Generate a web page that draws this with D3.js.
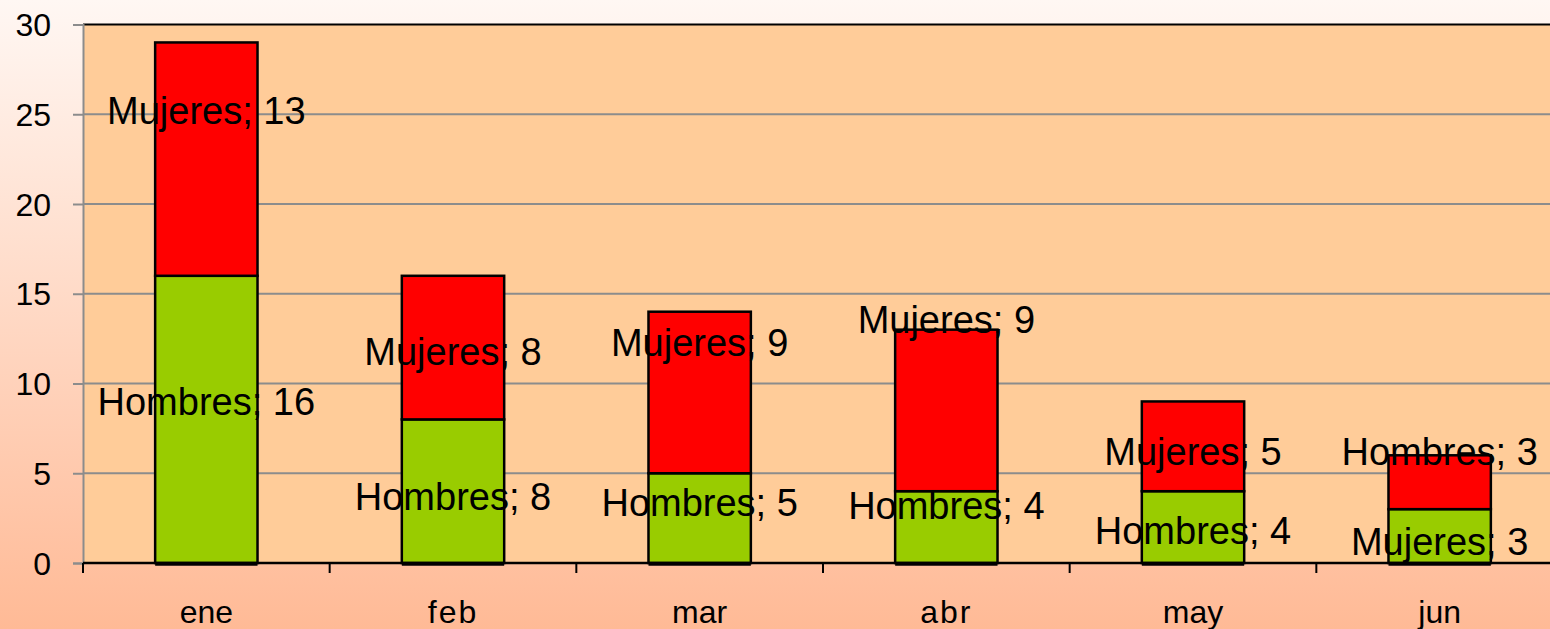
<!DOCTYPE html>
<html><head><meta charset="utf-8">
<script src="https://cdn.jsdelivr.net/npm/d3@7"></script>
<style>html,body{margin:0;padding:0;overflow:hidden;}</style>
</head><body>
<svg id="chart" width="1550" height="629"></svg>
<script>
// ---- data ----
const categories = ["ene", "feb", "mar", "abr", "may", "jun"];
const hombres = [16, 8, 5, 4, 4, 3];   // green, bottom segment
const mujeres = [13, 8, 9, 9, 5, 3];   // red, top segment
const bottomLabelNames = ["Hombres", "Hombres", "Hombres", "Hombres", "Hombres", "Mujeres"];
const topLabelNames = ["Mujeres", "Mujeres", "Mujeres", "Mujeres", "Mujeres", "Hombres"];
const yTicks = [0, 5, 10, 15, 20, 25, 30];
// label anchor heights (value units), as placed in the original
const bottomLabelAt = [9.0, 3.7, 3.4, 3.2, 1.8, 1.2];
const topLabelAt = [25.2, 11.8, 12.3, 13.6, 6.2, 6.2];

(function () {
// ---- layout ----
const W = 1550, H = 629;
const mLeft = 83, mRight = 1563, mTop = 24.5, mBottom = 563;
const svg = d3.select("#chart");
const FONT = "Arial, 'Liberation Sans', sans-serif";

const defs = svg.append("defs");
const grad = defs.append("linearGradient").attr("id", "bg").attr("x1", 0).attr("y1", 0).attr("x2", 0).attr("y2", 1);
grad.append("stop").attr("offset", "0%").attr("stop-color", "#FFF7F3");
grad.append("stop").attr("offset", "100%").attr("stop-color", "#FFBA96");
svg.append("rect").attr("width", W).attr("height", H).attr("fill", "url(#bg)");

const x = d3.scaleBand().domain(categories).range([mLeft, mRight]).paddingInner(0.585).paddingOuter(0.2925);
const y = d3.scaleLinear().domain([0, 30]).range([mBottom, mTop]);

// plot area
svg.append("rect").attr("x", mLeft).attr("y", mTop).attr("width", mRight - mLeft).attr("height", mBottom - mTop).attr("fill", "#FFCC99");

// gridlines
svg.append("g").selectAll("line").data(yTicks.filter(d => d > 0 && d < 30)).join("line")
  .attr("x1", mLeft).attr("x2", mRight).attr("y1", d => y(d)).attr("y2", d => y(d))
  .attr("stroke", "#8c8c8c").attr("stroke-width", 2);
// top border
svg.append("line").attr("x1", mLeft).attr("x2", mRight).attr("y1", mTop).attr("y2", mTop).attr("stroke", "#000").attr("stroke-width", 2);

// y axis
const yAxis = svg.append("g").attr("transform", `translate(${mLeft},0)`)
  .call(d3.axisLeft(y).tickValues(yTicks).tickSize(10).tickPadding(22));
yAxis.select(".domain").attr("stroke", "#8c8c8c").attr("stroke-width", 2);
yAxis.selectAll(".tick line").attr("stroke", "#8c8c8c").attr("stroke-width", 2);
yAxis.selectAll(".tick text").attr("font-family", FONT).attr("font-size", 32).attr("fill", "#000").attr("dy", "0.35em");

// bars
const stacked = categories.map((c, i) => ({c, h: hombres[i], m: mujeres[i]}));
const barG = svg.append("g");
barG.selectAll("rect.h").data(stacked).join("rect").attr("class", "h")
  .attr("x", d => x(d.c)).attr("width", x.bandwidth())
  .attr("y", d => y(d.h)).attr("height", d => y(0) - y(d.h))
  .attr("fill", "#99CC00").attr("stroke", "#000").attr("stroke-width", 2.5);
barG.selectAll("rect.m").data(stacked).join("rect").attr("class", "m")
  .attr("x", d => x(d.c)).attr("width", x.bandwidth())
  .attr("y", d => y(d.h + d.m)).attr("height", d => y(d.h) - y(d.h + d.m))
  .attr("fill", "#FF0000").attr("stroke", "#000").attr("stroke-width", 2.5);

// x axis
const xTickScale = d3.scaleLinear().domain([0, categories.length]).range([mLeft, mRight]);
const xAxisG = svg.append("g");
xAxisG.append("line").attr("x1", mLeft).attr("x2", mRight).attr("y1", mBottom).attr("y2", mBottom).attr("stroke", "#000").attr("stroke-width", 2.5);
xAxisG.selectAll("line.bb").data(categories).join("line").attr("class", "bb")
  .attr("x1", d => x(d)).attr("x2", d => x(d) + x.bandwidth()).attr("y1", mBottom + 1).attr("y2", mBottom + 1)
  .attr("stroke", "#000").attr("stroke-width", 3.5);
xAxisG.selectAll("line.t").data(d3.range(categories.length + 1)).join("line").attr("class", "t")
  .attr("x1", d => xTickScale(d)).attr("x2", d => xTickScale(d)).attr("y1", mBottom).attr("y2", mBottom + 10)
  .attr("stroke", "#000").attr("stroke-width", 2);
xAxisG.selectAll("text").data(categories).join("text")
  .attr("x", d => x(d) + x.bandwidth() / 2).attr("y", 623)
  .attr("text-anchor", "middle").attr("font-family", FONT).attr("font-size", 32)
  .attr("letter-spacing", d => d === "feb" || d === "abr" ? 2 : 0)
  .text(d => d);

// data labels
const labG = svg.append("g").attr("font-family", FONT).attr("font-size", 38).attr("fill", "#000").attr("text-anchor", "middle");
labG.selectAll("text.bl").data(stacked).join("text").attr("class", "bl")
  .attr("x", d => x(d.c) + x.bandwidth() / 2).attr("y", (d, i) => y(bottomLabelAt[i])).attr("dy", "0.36em")
  .text((d, i) => `${bottomLabelNames[i]}; ${d.h}`);
labG.selectAll("text.tl").data(stacked).join("text").attr("class", "tl")
  .attr("x", d => x(d.c) + x.bandwidth() / 2).attr("y", (d, i) => y(topLabelAt[i])).attr("dy", "0.36em")
  .text((d, i) => `${topLabelNames[i]}; ${d.m}`);
})();
</script>
</body></html>
